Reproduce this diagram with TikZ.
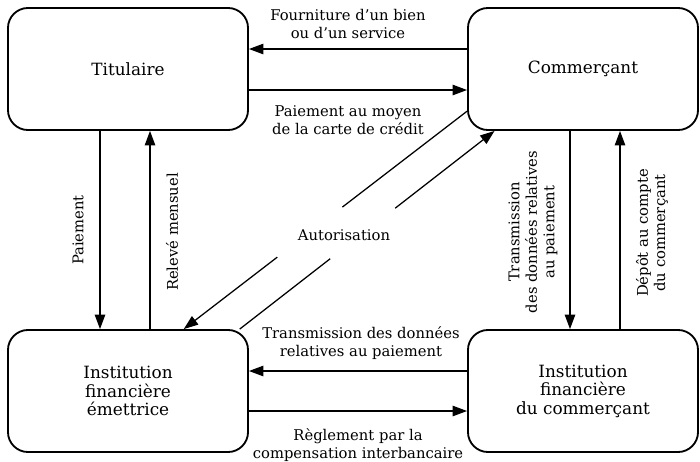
\documentclass[tikz,border=0pt]{standalone}
\usepackage{fontspec}
\setmainfont{DejaVu Serif}
\usetikzlibrary{arrows.meta,calc}

\begin{document}
\begin{tikzpicture}[x=0.025cm, y=-0.025cm,
  box/.style={draw, line width=1.3pt, rounded corners=0.5cm, minimum width=6cm, minimum height=3.05cm, align=center, font=\fontsize{12}{13.2}\selectfont},
  arr/.style={line width=0.9pt, -{Triangle[length=3.6mm, width=2.6mm]}},
  lbl/.style={align=center, font=\fontsize{10.5}{12.4}\selectfont}]

\useasboundingbox (0,0) rectangle (700,462);

% Draw the four parties
\node[box] (tit) at (128,69) {Titulaire};
\node[box, minimum width=5.75cm] (com) at (583,69) {Commerçant};
\node[box] (emi) at (128,391) {Institution\\financière\\émettrice};
\node[box, minimum width=5.75cm] (ifc) at (583,391) {Institution\\financière\\du commerçant};


% Draw the flows between titulaire and commerçant
\draw[arr] (com.west |- 0,49) -- (tit.east |- 0,49);
\draw[arr] (tit.east |- 0,90) -- (com.west |- 0,90);
\node[lbl] (fourn) at (348,24) {Fourniture d’un bien\\ou d’un service};
\node[lbl] (paiecarte) at (348,120) {Paiement au moyen\\de la carte de crédit};


% Draw the vertical flows on the left
\draw[arr] (tit.south -| 100,0) -- (emi.north -| 100,0);
\draw[arr] (emi.north -| 150,0) -- (tit.south -| 150,0);
\node[lbl, rotate=90] (paie) at (78,230) {Paiement};
\node[lbl, rotate=90] (releve) at (172,232) {Relevé mensuel};


% Draw the vertical flows on the right
\draw[arr] (com.south -| 570,0) -- (ifc.north -| 570,0);
\draw[arr] (ifc.north -| 620,0) -- (com.south -| 620,0);
\node[lbl, rotate=90] (transd) at (533,232) {Transmission\\des données relatives\\au paiement};
\node[lbl, rotate=90] (depot) at (652,233) {Dépôt au compte\\du commerçant};


% Draw the flows between the two institutions
\draw[arr] (ifc.west |- 0,371) -- (emi.east |- 0,371);
\draw[arr] (emi.east |- 0,411) -- (ifc.west |- 0,411);
\node[lbl] (transb) at (361,343) {Transmission des données\\relatives au paiement};
\node[lbl] (regl) at (358,445) {Règlement par la\\compensation interbancaire};


% Draw the autorisation lines, broken around the label
\coordinate (d1) at (com.200.8);
\coordinate (e1) at (emi.48.5);
\coordinate (d2) at (emi.29.7);
\coordinate (e2) at (com.215.7);
\draw[line width=0.9pt] (d1) -- ($(d1)!0.44!(e1)$);
\draw[arr] ($(d1)!0.67!(e1)$) -- (e1);
\draw[line width=0.9pt] (d2) -- ($(d2)!0.355!(e2)$);
\draw[arr] ($(d2)!0.61!(e2)$) -- (e2);
\node[lbl] (autor) at (344,235) {Autorisation};

\end{tikzpicture}
\end{document}
